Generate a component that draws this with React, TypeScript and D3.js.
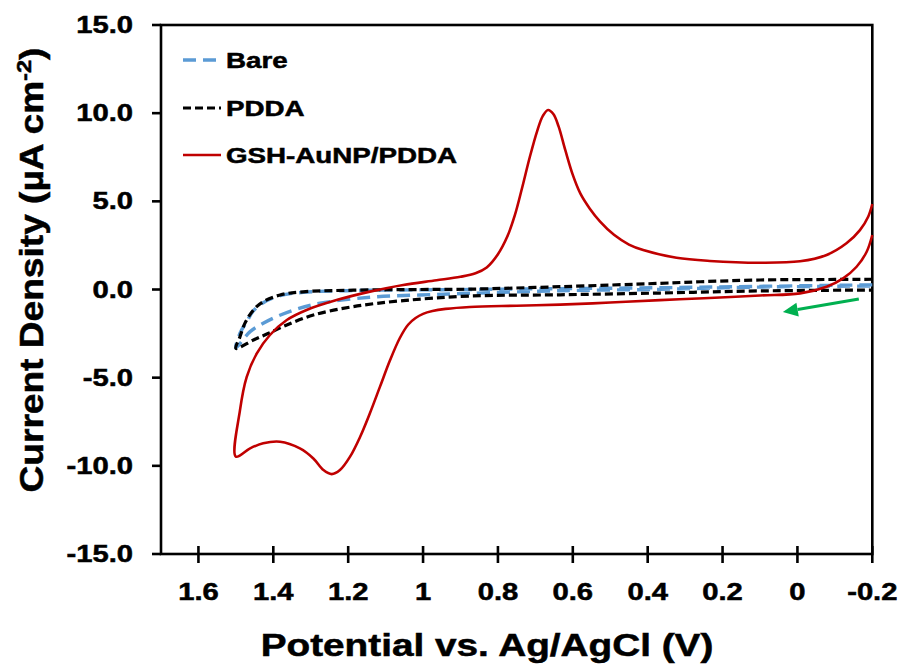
import React, { useEffect, useRef } from 'react';
import * as d3 from 'd3';

// cyclic voltammograms, potential (V) and current density (uA cm-2)
const bareV = [-0.2, 0.1, 0.367, 0.634, 0.875, 1.008, 1.186, 1.32, 1.382, 1.427, 1.453, 1.471, 1.489, 1.5,
    1.462, 1.427, 1.391, 1.338, 1.275, 1.142, 1.008, 0.875, 0.634, 0.367, 0.1, -0.2];
const bareI = [0.26, 0.18, 0.1, 0.05, 0.0, -0.02, -0.06, -0.16, -0.35, -0.75, -1.2, -1.83, -2.48, -3.3,
    -2.39, -1.92, -1.54, -1.12, -0.78, -0.44, -0.31, -0.22, -0.07, 0.01, 0.14, 0.2];

const pddaV = [-0.2, -0.1, 0.1, 0.26, 0.367, 0.634, 0.875, 1.008, 1.186, 1.32, 1.382, 1.427, 1.453, 1.476, 1.489, 1.5,
    1.453, 1.409, 1.364, 1.293, 1.186, 1.053, 0.875, 0.634, 0.367, 0.1, -0.2];
const pddaI = [0.58, 0.57, 0.54, 0.44, 0.35, 0.16, 0.02, 0.0, -0.04, -0.13, -0.31, -0.69, -1.16, -1.92, -2.68, -3.34,
    -2.86, -2.45, -2.01, -1.45, -0.97, -0.63, -0.37, -0.3, -0.2, -0.08, -0.03];

const gshV = [-0.2, -0.185, -0.158, -0.122, -0.078, -0.007, 0.1, 0.25, 0.367, 0.5, 0.634, 0.75, 0.875, 0.94, 0.975,
    1.0, 1.02, 1.04, 1.062, 1.088, 1.115, 1.142, 1.168, 1.195, 1.222, 1.244, 1.266, 1.293, 1.329, 1.382, 1.427, 1.462, 1.5,
    1.489, 1.471, 1.444, 1.409, 1.364, 1.311, 1.231, 1.142, 1.053, 0.964, 0.9, 0.86, 0.83, 0.8, 0.775, 0.755,
    0.735, 0.715, 0.695, 0.68, 0.666, 0.652, 0.638, 0.62, 0.6, 0.58, 0.555, 0.527, 0.49, 0.45, 0.412, 0.323, 0.234,
    0.1, -0.007, -0.078, -0.131, -0.167, -0.189, -0.2];
const gshI = [3.09, 2.14, 1.29, 0.63, 0.16, -0.22, -0.34, -0.5, -0.6, -0.74, -0.86, -0.92, -0.99, -1.1, -1.22,
    -1.38, -1.62, -2.0, -2.75, -4.0, -5.51, -7.02, -8.35, -9.48, -10.24, -10.47, -10.24, -9.58, -9.01, -8.63, -8.72, -9.01, -9.48,
    -6.84, -4.95, -3.62, -2.58, -1.73, -1.16, -0.6, -0.12, 0.26, 0.52, 0.72, 0.92, 1.25, 2.0, 3.0, 4.2,
    5.8, 7.5, 9.0, 9.85, 10.18, 9.95, 9.25, 7.9, 6.5, 5.45, 4.6, 3.85, 3.1, 2.55, 2.24, 1.8, 1.62,
    1.52, 1.6, 1.96, 2.62, 3.37, 4.13, 4.85];

const xTicks = [1.6, 1.4, 1.2, 1, 0.8, 0.6, 0.4, 0.2, 0, -0.2];
const yTicks = [15, 10, 5, 0, -5, -10, -15];

const series = [
    { name: 'Bare', v: bareV, i: bareI, color: '#5B9BD5', width: 3.4, dash: '13,7' },
    { name: 'PDDA', v: pddaV, i: pddaI, color: '#000000', width: 3.2, dash: '8,4' },
    { name: 'GSH-AuNP/PDDA', v: gshV, i: gshI, color: '#C00000', width: 2.6, dash: null },
];

const FONT = '"Liberation Sans", Arial, sans-serif';
const SX = 1.27; // the original figure is stretched horizontally

const App = () => {
    const ref = useRef(null);

    useEffect(() => {
        document.body.style.margin = '0';
        const svg = d3.select(ref.current);
        svg.selectAll('*').remove();

        const left = 161, right = 872.3, top = 25, bottom = 554;
        const x = d3.scaleLinear().domain([1.7, -0.2]).range([left, right]);
        const y = d3.scaleLinear().domain([-15, 15]).range([bottom, top]);

        const label = (g, px, py, txt, size, anchor, sx = SX) => {
            return g.append('g').attr('transform', `translate(${px},${py}) scale(${sx},1)`)
                .append('text')
                .attr('text-anchor', anchor)
                .attr('font-family', FONT)
                .attr('font-weight', 'bold')
                .attr('font-size', size)
                .attr('stroke', '#000')
                .attr('stroke-width', 0.5)
                .text(txt);
        };

        // frame
        svg.append('rect')
            .attr('x', left).attr('y', top)
            .attr('width', right - left).attr('height', bottom - top)
            .attr('fill', 'none').attr('stroke', '#000').attr('stroke-width', 2.6);

        // y axis ticks + labels
        const gy = svg.append('g');
        yTicks.forEach(t => {
            gy.append('line').attr('x1', left - 9).attr('x2', left)
                .attr('y1', y(t)).attr('y2', y(t))
                .attr('stroke', '#000').attr('stroke-width', 2.6);
            label(gy, 133, y(t) + 8, t.toFixed(1), 23, 'end');
        });

        // x axis ticks + labels
        const gx = svg.append('g');
        xTicks.forEach(t => {
            gx.append('line').attr('x1', x(t)).attr('x2', x(t))
                .attr('y1', bottom - 8).attr('y2', bottom + 9)
                .attr('stroke', '#000').attr('stroke-width', 2.6);
            label(gx, x(t), 600, String(t), 23, 'middle');
        });

        // axis titles
        label(svg, 487, 656, 'Potential vs. Ag/AgCl (V)', 30.5, 'middle');
        const yt = svg.append('g').attr('transform', 'translate(43,270) rotate(-90)')
            .append('text')
            .attr('text-anchor', 'middle')
            .attr('font-family', FONT)
            .attr('font-weight', 'bold')
            .attr('font-size', 33)
            .attr('stroke', '#000')
            .attr('stroke-width', 0.5)
            .attr('textLength', 445)
            .attr('lengthAdjust', 'spacingAndGlyphs');
        yt.append('tspan').text('Current Density (µA cm');
        yt.append('tspan').attr('font-size', 21).attr('dy', -12).text('-2');
        yt.append('tspan').attr('dy', 12).text(')');

        // curves
        const line = d3.line()
            .x(d => x(d[0]))
            .y(d => y(d[1]))
            .curve(d3.curveCatmullRom.alpha(0.5));

        series.forEach(s => {
            const pts = s.v.map((v, k) => [v, s.i[k]]);
            svg.append('path')
                .attr('d', line(pts))
                .attr('fill', 'none')
                .attr('stroke', s.color)
                .attr('stroke-width', s.width)
                .attr('stroke-dasharray', s.dash)
                .attr('stroke-linejoin', 'round');
        });

        // legend
        const lg = svg.append('g');
        const rows = [60, 108, 155];
        series.forEach((s, k) => {
            lg.append('line').attr('x1', 183).attr('x2', 221)
                .attr('y1', rows[k]).attr('y2', rows[k])
                .attr('stroke', s.color)
                .attr('stroke-width', s.width)
                .attr('stroke-dasharray', s.dash);
            label(lg, 226, rows[k] + 8, s.name, 21.5, 'start', 1.29);
        });

        // scan direction arrow
        const ax0 = x(-0.164), ay0 = y(-0.54), ax1 = x(0.039), ay1 = y(-1.28);
        const ang = Math.atan2(ay1 - ay0, ax1 - ax0);
        const hl = 15, hw = 7;
        const bx = ax1 - hl * Math.cos(ang), by = ay1 - hl * Math.sin(ang);
        svg.append('line').attr('x1', ax0).attr('y1', ay0).attr('x2', bx).attr('y2', by)
            .attr('stroke', '#00B050').attr('stroke-width', 3.2);
        svg.append('path')
            .attr('d', `M${ax1},${ay1} L${bx + hw * Math.sin(ang)},${by - hw * Math.cos(ang)} L${bx - hw * Math.sin(ang)},${by + hw * Math.cos(ang)} Z`)
            .attr('fill', '#00B050');
    }, []);

    return (
        <svg ref={ref} width={900} height={665} style={{ display: 'block', background: '#fff' }} />
    );
};

export default App;
